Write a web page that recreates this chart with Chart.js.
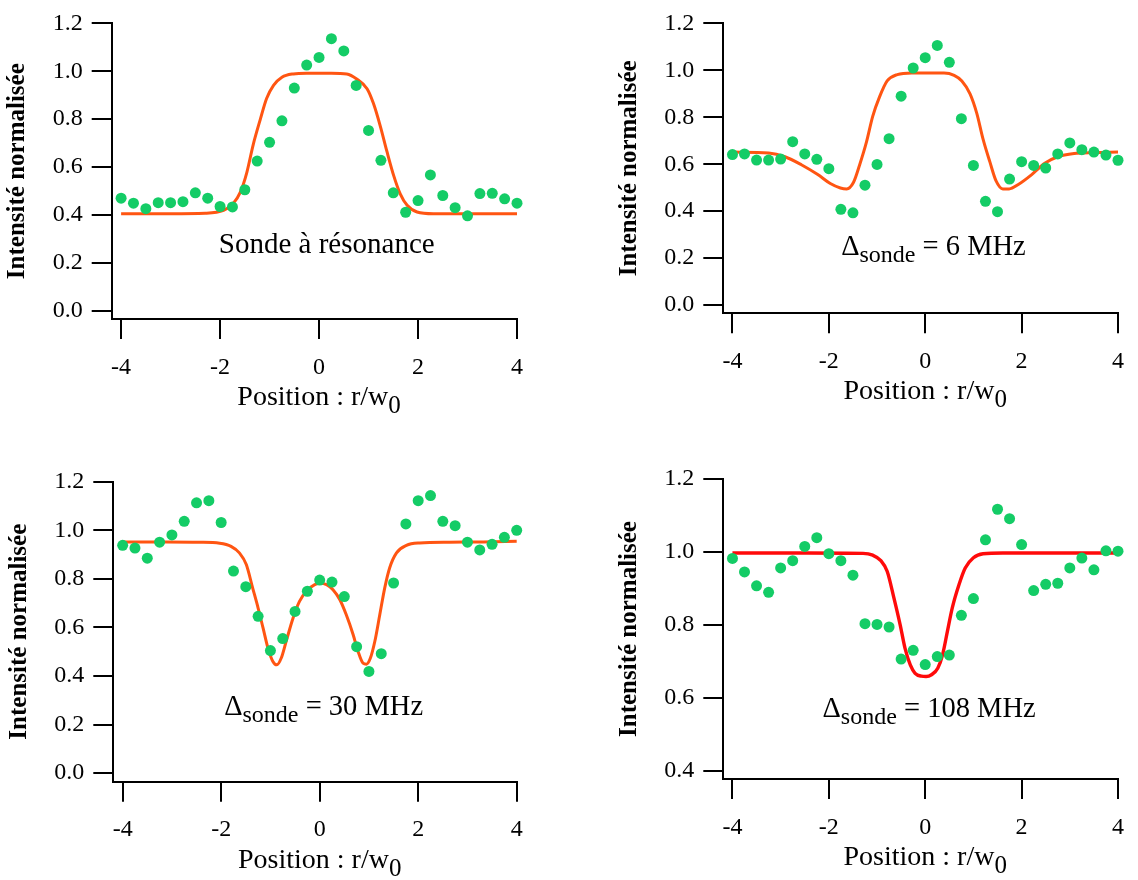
<!DOCTYPE html>
<html>
<head>
<meta charset="utf-8">
<title>Intensité normalisée</title>
<script src="https://cdn.jsdelivr.net/npm/chart.js@4"></script>
<style>
  body { margin: 0; background: #fff; }
  #page { position: relative; width: 1138px; height: 880px; }
  canvas { position: absolute; }
</style>
</head>
<body>
<div id="page">
  <canvas id="p-resonance" width="569" height="440" style="left:0;top:0"></canvas>
  <canvas id="p-6mhz" width="569" height="440" style="left:569px;top:0"></canvas>
  <canvas id="p-30mhz" width="569" height="440" style="left:0;top:440px"></canvas>
  <canvas id="p-108mhz" width="569" height="440" style="left:569px;top:440px"></canvas>
</div>
<script>
// Measured points (r/w0 step 0.25)
const positions = [-4, -3.75, -3.5, -3.25, -3, -2.75, -2.5, -2.25, -2, -1.75, -1.5, -1.25, -1, -0.75, -0.5, -0.25,
  0, 0.25, 0.5, 0.75, 1, 1.25, 1.5, 1.75, 2, 2.25, 2.5, 2.75, 3, 3.25, 3.5, 3.75, 4];

const dotsResonance = [0.470, 0.449, 0.426, 0.451, 0.451, 0.455, 0.492, 0.470, 0.435, 0.433, 0.505, 0.625, 0.703,
  0.793, 0.930, 1.026, 1.058, 1.136, 1.085, 0.941, 0.753, 0.628, 0.492, 0.411, 0.460, 0.567, 0.481, 0.430, 0.396,
  0.489, 0.490, 0.467, 0.449];
const dots6MHz = [0.641, 0.644, 0.618, 0.618, 0.622, 0.696, 0.644, 0.621, 0.581, 0.408, 0.393, 0.511, 0.599, 0.709,
  0.890, 1.010, 1.054, 1.106, 1.034, 0.794, 0.595, 0.442, 0.398, 0.537, 0.611, 0.595, 0.584, 0.644, 0.691, 0.662,
  0.652, 0.639, 0.617];
const dots30MHz = [0.938, 0.927, 0.885, 0.951, 0.981, 1.037, 1.113, 1.122, 1.032, 0.832, 0.768, 0.646, 0.505, 0.554,
  0.666, 0.749, 0.795, 0.787, 0.727, 0.521, 0.419, 0.492, 0.783, 1.026, 1.122, 1.143, 1.037, 1.019, 0.951, 0.919,
  0.942, 0.971, 1.000];
const dots108MHz = [0.982, 0.945, 0.907, 0.889, 0.956, 0.976, 1.015, 1.039, 0.995, 0.976, 0.936, 0.803, 0.801, 0.794,
  0.706, 0.730, 0.691, 0.713, 0.717, 0.826, 0.872, 1.033, 1.117, 1.091, 1.020, 0.894, 0.911, 0.914, 0.956, 0.983,
  0.951, 1.003, 1.002];

// Fitted curves
const fitResonanceX = [-4, -3, -2.3, -1.93, -1.74, -1.59, -1.46, -1.33, -1.19, -1.06, -0.92, -0.75, -0.52, -0.25,
  0.25, 0.56, 0.76, 0.97, 1.10, 1.24, 1.37, 1.51, 1.64, 1.78, 1.98, 2.31, 3, 4];
const fitResonanceY = [0.405, 0.405, 0.407, 0.419, 0.446, 0.495, 0.577, 0.694, 0.797, 0.886, 0.941, 0.975, 0.989,
  0.992, 0.992, 0.989, 0.968, 0.927, 0.865, 0.769, 0.666, 0.563, 0.488, 0.440, 0.412, 0.405, 0.405, 0.405];

const fit6MHzX = [-4, -3.25, -2.91, -2.57, -2.23, -1.97, -1.76, -1.63, -1.49, -1.36, -1.22, -1.09, -0.95, -0.79,
  -0.58, -0.28, 0.39, 0.60, 0.76, 0.93, 1.07, 1.20, 1.34, 1.47, 1.61, 1.74, 1.94, 2.21, 2.48, 2.75, 3.09, 3.49, 4];
const fit6MHzY = [0.652, 0.648, 0.632, 0.598, 0.556, 0.518, 0.499, 0.495, 0.522, 0.598, 0.694, 0.804, 0.886, 0.955,
  0.982, 0.989, 0.989, 0.979, 0.955, 0.900, 0.817, 0.707, 0.611, 0.529, 0.495, 0.495, 0.515, 0.556, 0.604, 0.632,
  0.646, 0.650, 0.652];

const fit30MHzX = [-4, -3.12, -2.44, -2.03, -1.80, -1.63, -1.49, -1.36, -1.25, -1.15, -1.05, -0.95, -0.87, -0.78,
  -0.68, -0.54, -0.41, -0.27, -0.10, 0.01, 0.14, 0.27, 0.41, 0.54, 0.68, 0.78, 0.88, 0.95, 1.03, 1.12, 1.22, 1.32,
  1.42, 1.56, 1.76, 2.03, 2.64, 3.32, 4];
const fit30MHzY = [0.952, 0.952, 0.951, 0.947, 0.934, 0.907, 0.859, 0.762, 0.680, 0.598, 0.515, 0.460, 0.446, 0.474,
  0.543, 0.639, 0.707, 0.749, 0.776, 0.782, 0.776, 0.755, 0.714, 0.652, 0.570, 0.501, 0.453, 0.449, 0.474, 0.543,
  0.652, 0.762, 0.845, 0.907, 0.938, 0.948, 0.951, 0.952, 0.955];

const fit108MHzX = [-4, -2.44, -1.29, -1.09, -0.92, -0.79, -0.65, -0.52, -0.42, -0.31, -0.21, -0.08, 0.02, 0.13,
  0.26, 0.36, 0.46, 0.56, 0.70, 0.83, 1.00, 1.20, 1.61, 4];
const fit108MHzY = [0.997, 0.997, 0.996, 0.991, 0.976, 0.947, 0.874, 0.800, 0.736, 0.690, 0.667, 0.659, 0.658, 0.663,
  0.681, 0.718, 0.782, 0.846, 0.910, 0.956, 0.984, 0.995, 0.997, 0.997];

const xTicks = [-4, -2, 0, 2, 4];
const yTicksFull = [0, 0.2, 0.4, 0.6, 0.8, 1.0, 1.2];
const yTicksZoom = [0.4, 0.6, 0.8, 1.0, 1.2];

const yTitle = "Intensité normalisée";
const xTitle = [{ text: "Position : r/w", size: 28 }, { text: "0", size: 25, dy: 8 }];

Chart.defaults.font.family = '"Liberation Serif", "Times New Roman", serif';
Chart.defaults.color = "#000";

const CW = 569, CH = 440;
const dotColor = "#14cc66";

// draw text pieces (with subscripts) centred on cx, baseline y
function drawRich(ctx, parts, cx, y) {
  let total = 0;
  parts.forEach((p) => {
    ctx.font = (p.size) + 'px "Liberation Serif"';
    p.w = ctx.measureText(p.text).width;
    total += p.w;
  });
  let x = cx - total / 2;
  ctx.textAlign = "left";
  ctx.textBaseline = "alphabetic";
  parts.forEach((p) => {
    ctx.font = (p.size) + 'px "Liberation Serif"';
    ctx.fillText(p.text, x, y + (p.dy || 0));
    x += p.w;
  });
}

const panelText = {
  id: "panelText",
  afterDraw(chart, args, opts) {
    const { ctx, chartArea, scales } = chart;
    ctx.save();
    ctx.fillStyle = "#000";
    drawRich(ctx, xTitle, scales.x.getPixelForValue(0), chartArea.bottom + 86);

    ctx.save();
    ctx.translate(chartArea.left - 94, (chartArea.top + chartArea.bottom) / 2);
    ctx.rotate(-Math.PI / 2);
    ctx.font = 'bold 25px "Liberation Serif"';
    ctx.textAlign = "center";
    ctx.textBaseline = "middle";
    ctx.fillText(yTitle, 0, 0);
    ctx.restore();

    drawRich(ctx, opts.note, scales.x.getPixelForValue(opts.noteAt[0]), scales.y.getPixelForValue(opts.noteAt[1]));
    ctx.restore();
  },
};

function axisStyle() {
  return {
    grid: { drawOnChartArea: false, drawTicks: true, tickLength: 20, color: "#000", lineWidth: 2 },
    border: { display: true, color: "#000", width: 2 },
  };
}

function makePanel(id, cfg) {
  const area = cfg.area;
  return new Chart(document.getElementById(id), {
    type: "scatter",
    data: {
      datasets: [
        {
          data: positions.map((x, i) => ({ x: x, y: cfg.dots[i] })),
          backgroundColor: dotColor,
          pointRadius: 5.5,
          pointHoverRadius: 5.5,
          pointBorderWidth: 0,
          clip: false,
        },
        {
          data: cfg.fitX.map((x, i) => ({ x: x, y: cfg.fitY[i] })),
          showLine: true,
          borderColor: cfg.lineColor,
          borderWidth: cfg.lineWidth,
          pointRadius: 0,
          cubicInterpolationMode: "monotone",
          clip: false,
        },
      ],
    },
    options: {
      responsive: false,
      animation: false,
      events: [],
      layout: { padding: { left: 0, top: area.top, right: CW - area.right, bottom: 0 } },
      plugins: {
        legend: { display: false },
        tooltip: { enabled: false },
        panelText: { note: cfg.note, noteAt: cfg.noteAt },
      },
      scales: {
        x: {
          type: "linear",
          min: -4.19,
          max: 4,
          afterBuildTicks: (s) => { s.ticks = xTicks.map((v) => ({ value: v })); },
          afterFit: (s) => { s.height = CH - area.bottom; },
          ticks: { font: { size: 24 }, padding: 14, autoSkip: false, maxRotation: 0, callback: (v) => String(v) },
          ...axisStyle(),
        },
        y: {
          type: "linear",
          min: cfg.yMin,
          max: 1.2,
          afterBuildTicks: (s) => { s.ticks = cfg.yTicks.map((v) => ({ value: v })); },
          afterFit: (s) => { s.width = area.left; },
          ticks: { font: { size: 24 }, padding: 9, autoSkip: false, callback: (v) => v.toFixed(1) },
          ...axisStyle(),
        },
      },
    },
    plugins: [panelText],
  });
}

makePanel("p-resonance", {
  dots: dotsResonance, fitX: fitResonanceX, fitY: fitResonanceY,
  lineColor: "#ff5512", lineWidth: 3, yMin: -0.035, yTicks: yTicksFull,
  area: { left: 111.7, right: 517, top: 18.6, bottom: 319 },
  note: [{ text: "Sonde à résonance", size: 29 }], noteAt: [0.155, 0.239],
});

makePanel("p-6mhz", {
  dots: dots6MHz, fitX: fit6MHzX, fitY: fit6MHzY,
  lineColor: "#ff5512", lineWidth: 3, yMin: -0.035, yTicks: yTicksFull,
  area: { left: 154.3, right: 559.3, top: 14, bottom: 313.3 },
  note: [{ text: "Δ", size: 28.5 }, { text: "sonde", size: 24, dy: 7 }, { text: " = 6 MHz", size: 28.5 }],
  noteAt: [0.17, 0.213],
});

makePanel("p-30mhz", {
  dots: dots30MHz, fitX: fit30MHzX, fitY: fit30MHzY,
  lineColor: "#ff5512", lineWidth: 3, yMin: -0.035, yTicks: yTicksFull,
  area: { left: 113.3, right: 516.7, top: 41.7, bottom: 341.7 },
  note: [{ text: "Δ", size: 28.5 }, { text: "sonde", size: 24, dy: 7 }, { text: " = 30 MHz", size: 28.5 }],
  noteAt: [0.08, 0.24],
});

makePanel("p-108mhz", {
  dots: dots108MHz, fitX: fit108MHzX, fitY: fit108MHzY,
  lineColor: "#ff0a0a", lineWidth: 3.4, yMin: 0.377, yTicks: yTicksZoom,
  area: { left: 154.3, right: 559.3, top: 39, bottom: 339 },
  note: [{ text: "Δ", size: 28.5 }, { text: "sonde", size: 24, dy: 7 }, { text: " = 108 MHz", size: 28.5 }],
  noteAt: [0.08, 0.548],
});
</script>
</body>
</html>
